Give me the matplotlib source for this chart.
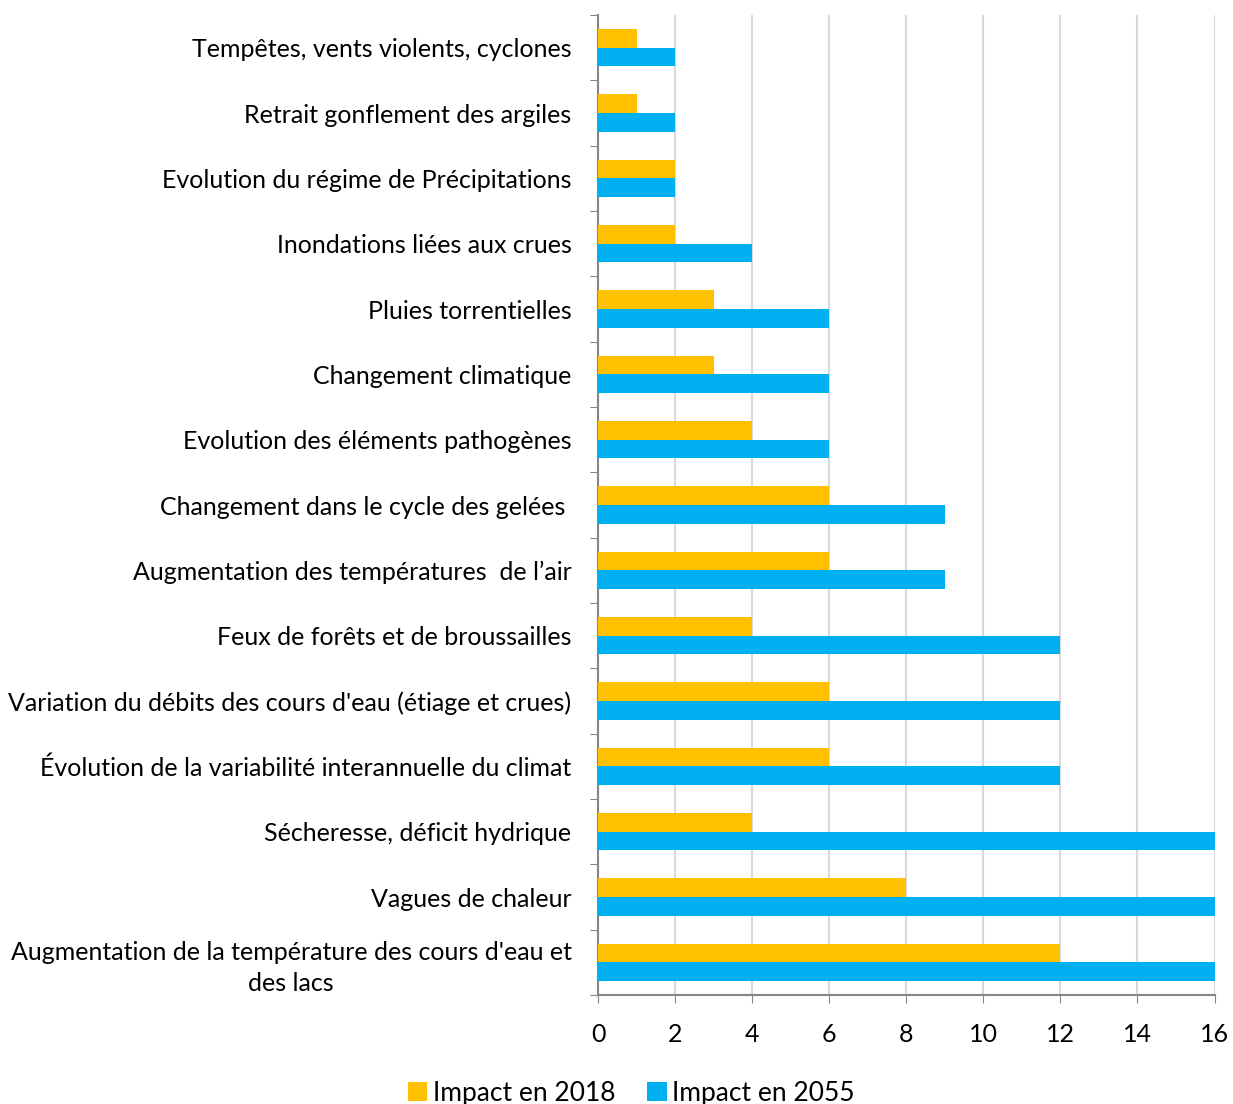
import numpy as np
import matplotlib.pyplot as plt

plt.rcParams['font.family'] = ['Lato', 'DejaVu Sans']

categories = [
    "Tempêtes, vents violents, cyclones",
    "Retrait gonflement des argiles",
    "Evolution du régime de Précipitations",
    "Inondations liées aux crues",
    "Pluies torrentielles",
    "Changement climatique",
    "Evolution des éléments pathogènes",
    "Changement dans le cycle des gelées ",
    "Augmentation des températures  de l’air",
    "Feux de forêts et de broussailles",
    "Variation du débits des cours d'eau (étiage et crues)",
    "Évolution de la variabilité interannuelle du climat",
    "Sécheresse, déficit hydrique",
    "Vagues de chaleur",
    "Augmentation de la température des cours d'eau et\ndes lacs",
]
impact_2018 = [1, 1, 2, 2, 3, 3, 4, 6, 6, 4, 6, 6, 4, 8, 12]
impact_2055 = [2, 2, 2, 4, 6, 6, 6, 9, 9, 12, 12, 12, 16, 16, 16]

fig = plt.figure(figsize=(12.33, 11.04), dpi=100)
ax = fig.add_axes([0.485, 0.0987, 0.5, 0.8877])

y = np.arange(len(categories))
h = 0.285
ax.barh(y - h / 2, impact_2018, height=h, color="#FFC000", label="Impact en 2018", zorder=3)
ax.barh(y + h / 2, impact_2055, height=h, color="#00B0F0", label="Impact en 2055", zorder=3)

ax.set_ylim(len(categories) - 0.5, -0.5)
ax.set_xlim(0, 16)
ax.set_xticks(range(0, 17, 2))
ax.tick_params(axis='x', labelsize=18, length=6, color="#868686", pad=14)

ax.set_yticks(np.arange(-0.5, len(categories), 1))
ax.set_yticklabels([])
ax.set_yticks(y, minor=True)
ax.set_yticklabels(categories, minor=True, fontsize=18, multialignment='center', linespacing=1.4)
ax.tick_params(axis='y', which='minor', length=0, pad=19)
ax.tick_params(axis='y', which='major', length=6, color="#868686")

ax.grid(axis='x', color="#D9D9D9", linewidth=1.5, zorder=0)
for s in ["top", "right"]:
    ax.spines[s].set_visible(False)
for s in ["left", "bottom"]:
    ax.spines[s].set_color("#868686")
    ax.spines[s].set_linewidth(1.5)

ax.legend(loc="center", bbox_to_anchor=(631 / 1233, 11 / 1104), bbox_transform=fig.transFigure,
          ncol=2, frameon=False, fontsize=19, handlelength=0.75, handleheight=0.75,
          handletextpad=0.2, columnspacing=1.2, borderpad=0)

fig.savefig("out.png", dpi=100)
